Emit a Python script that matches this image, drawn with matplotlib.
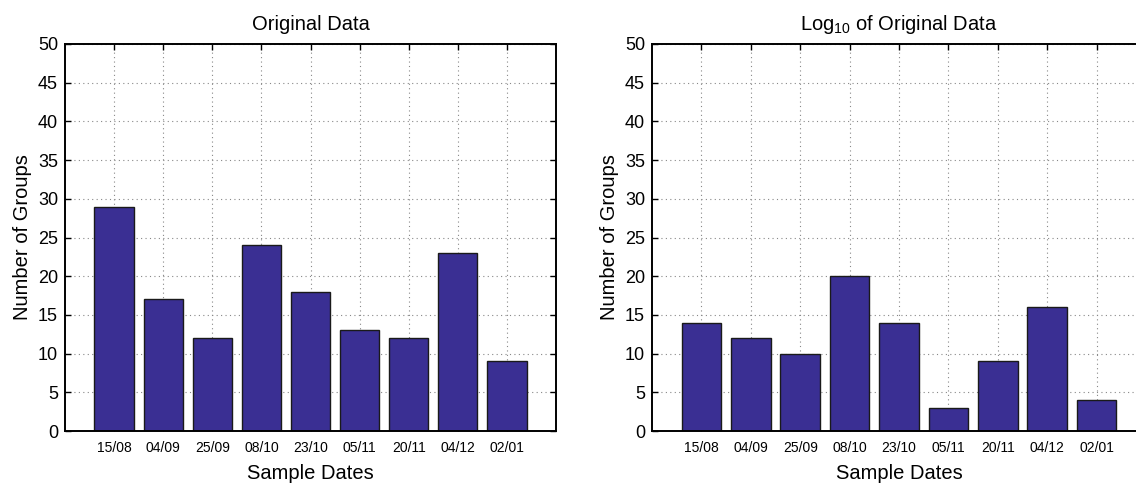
import numpy as np
import matplotlib
matplotlib.use("Agg")
import matplotlib.pyplot as plt

# — Data —
DATES = ["15/08", "04/09", "25/09", "08/10", "23/10", "05/11", "20/11", "04/12", "02/01"]
ORIGINAL = [29, 17, 12, 24, 18, 13, 12, 23, 9]
LOG10 = [14, 12, 10, 20, 14, 3, 9, 16, 4]
TITLES = ["Original Data", r"Log$_{10}$ of Original Data"]

BAR_COLOR = "#3a2f93"

plt.rcParams["font.family"] = ["Liberation Sans", "DejaVu Sans"]
plt.rcParams["mathtext.fontset"] = "custom"
plt.rcParams["mathtext.rm"] = "Liberation Sans"
plt.rcParams["mathtext.it"] = "Liberation Sans"

fig = plt.figure(figsize=(11.36, 4.83), dpi=100)
ax_left = fig.add_axes([65 / 1136, 1 - 431 / 483, 491 / 1136, 387 / 483])
ax_right = fig.add_axes([652 / 1136, 1 - 431 / 483, 494 / 1136, 387 / 483])


def draw_panel(ax, values, title):
    x = np.arange(1, len(DATES) + 1)
    ax.set_axisbelow(True)
    ax.bar(x, values, width=0.8, color=BAR_COLOR, edgecolor="#1a1a1a", linewidth=1.0, zorder=2)
    ax.set_xlim(0, 10)
    ax.set_ylim(0, 50)
    ax.set_xticks(x)
    ax.set_xticklabels(DATES, fontsize=10)
    ax.set_yticks(range(0, 51, 5))
    ax.tick_params(axis="y", labelsize=13, pad=5)
    ax.tick_params(axis="x", pad=7)
    ax.tick_params(direction="in", top=True, right=True, length=4, width=1)
    ax.grid(True, linestyle=(0, (1, 3)), color="#888888", linewidth=0.8)
    for s in ax.spines.values():
        s.set_linewidth(1.4)
    ax.set_title(title, fontsize=14.5, pad=10)
    ax.set_xlabel("Sample Dates", fontsize=14.5, labelpad=7)
    ax.set_ylabel("Number of Groups", fontsize=14.5, labelpad=4)


draw_panel(ax_left, ORIGINAL, TITLES[0])
draw_panel(ax_right, LOG10, TITLES[1])

fig.savefig("out.png", dpi=100)
